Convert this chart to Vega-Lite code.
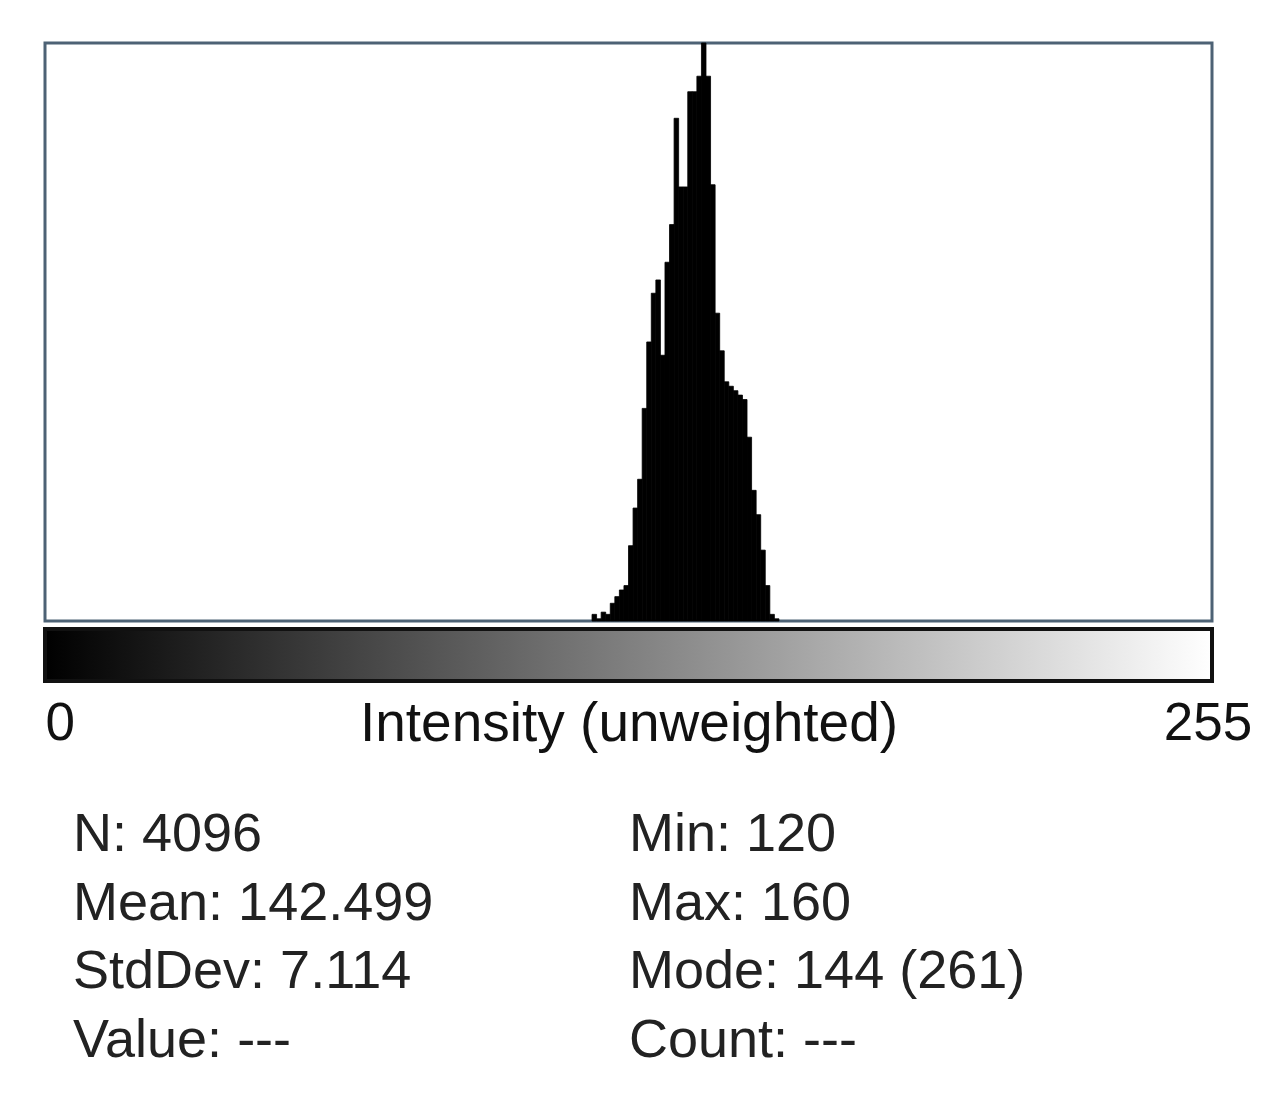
{
  "$schema": "https://vega.github.io/schema/vega-lite/v6.json",
  "background": "white",
  "padding": {"left": 43, "top": 41, "right": 5, "bottom": 0},
  "spacing": 8,
  "bounds": "flush",
  "config": {"font": "Liberation Sans", "view": {"stroke": null}},
  "vconcat": [
    {
      "width": 1167,
      "height": 578,
      "view": {"stroke": "#4d6275", "strokeWidth": 3},
      "data": {"values": [
        {"lo": 120, "hi": 121, "count": 3},
        {"lo": 121, "hi": 122, "count": 1},
        {"lo": 122, "hi": 123, "count": 4},
        {"lo": 123, "hi": 124, "count": 3},
        {"lo": 124, "hi": 125, "count": 8},
        {"lo": 125, "hi": 126, "count": 11},
        {"lo": 126, "hi": 127, "count": 14},
        {"lo": 127, "hi": 128, "count": 16},
        {"lo": 128, "hi": 129, "count": 34},
        {"lo": 129, "hi": 130, "count": 51},
        {"lo": 130, "hi": 131, "count": 64},
        {"lo": 131, "hi": 132, "count": 96},
        {"lo": 132, "hi": 133, "count": 126},
        {"lo": 133, "hi": 134, "count": 148},
        {"lo": 134, "hi": 135, "count": 154},
        {"lo": 135, "hi": 136, "count": 120},
        {"lo": 136, "hi": 137, "count": 162},
        {"lo": 137, "hi": 138, "count": 179},
        {"lo": 138, "hi": 139, "count": 227},
        {"lo": 139, "hi": 140, "count": 196},
        {"lo": 140, "hi": 141, "count": 196},
        {"lo": 141, "hi": 142, "count": 239},
        {"lo": 142, "hi": 143, "count": 239},
        {"lo": 143, "hi": 144, "count": 246},
        {"lo": 144, "hi": 145, "count": 261},
        {"lo": 145, "hi": 146, "count": 246},
        {"lo": 146, "hi": 147, "count": 197},
        {"lo": 147, "hi": 148, "count": 139},
        {"lo": 148, "hi": 149, "count": 122},
        {"lo": 149, "hi": 150, "count": 108},
        {"lo": 150, "hi": 151, "count": 106},
        {"lo": 151, "hi": 152, "count": 104},
        {"lo": 152, "hi": 153, "count": 102},
        {"lo": 153, "hi": 154, "count": 100},
        {"lo": 154, "hi": 155, "count": 83},
        {"lo": 155, "hi": 156, "count": 59},
        {"lo": 156, "hi": 157, "count": 48},
        {"lo": 157, "hi": 158, "count": 32},
        {"lo": 158, "hi": 159, "count": 16},
        {"lo": 159, "hi": 160, "count": 3},
        {"lo": 160, "hi": 161, "count": 1}
      ]},
      "mark": {"type": "rect", "color": "black", "stroke": "black", "strokeWidth": 0.8},
      "encoding": {
        "x": {"field": "lo", "type": "quantitative", "scale": {"domain": [0, 256], "nice": false, "zero": false}, "axis": null},
        "x2": {"field": "hi"},
        "y": {"field": "count", "type": "quantitative", "scale": {"domain": [0, 261], "nice": false}, "axis": null},
        "y2": {"datum": 0}
      }
    },
    {
      "width": 1167,
      "height": 52,
      "data": {"values": [{"lo": 0, "hi": 256}]},
      "mark": {
        "type": "rect",
        "fill": {"gradient": "linear", "x1": 0, "y1": 0, "x2": 1, "y2": 0,
          "stops": [{"offset": 0, "color": "#000000"}, {"offset": 1, "color": "#ffffff"}]},
        "stroke": "#111111",
        "strokeWidth": 4
      },
      "encoding": {
        "x": {
          "field": "lo", "type": "quantitative",
          "scale": {"domain": [0, 256], "nice": false, "zero": false},
          "axis": {
            "values": [0, 255], "ticks": false, "tickSize": 0, "domain": false, "grid": false,
            "labelFontSize": 53, "labelColor": "#111111", "labelPadding": 58, "labelBaseline": "alphabetic",
            "labelOffset": 0, "labelFont": "Liberation Sans",
            "title": "Intensity (unweighted)", "titleFontSize": 55, "titleFontWeight": "normal",
            "titleColor": "#111111", "titleY": 59, "titleBaseline": "alphabetic", "titleFont": "Liberation Sans"
          }
        },
        "x2": {"field": "hi"}
      }
    },
    {
      "width": 1167,
      "height": 407,
      "data": {"values": [
        {"label": "N: 4096", "col": 0, "row": 0},
        {"label": "Mean: 142.499", "col": 0, "row": 1},
        {"label": "StdDev: 7.114", "col": 0, "row": 2},
        {"label": "Value: ---", "col": 0, "row": 3},
        {"label": "Min: 120", "col": 1, "row": 0},
        {"label": "Max: 160", "col": 1, "row": 1},
        {"label": "Mode: 144 (261)", "col": 1, "row": 2},
        {"label": "Count: ---", "col": 1, "row": 3}
      ]},
      "mark": {"type": "text", "align": "left", "baseline": "alphabetic", "fontSize": 54, "color": "#222222", "font": "Liberation Sans"},
      "encoding": {
        "x": {"field": "col", "type": "quantitative", "scale": {"domain": [-0.0504, 2.0486], "nice": false, "zero": false}, "axis": null},
        "y": {"field": "row", "type": "quantitative", "scale": {"domain": [-2.359, 3.568], "nice": false, "zero": false, "reverse": true}, "axis": null},
        "text": {"field": "label"}
      }
    }
  ]
}
